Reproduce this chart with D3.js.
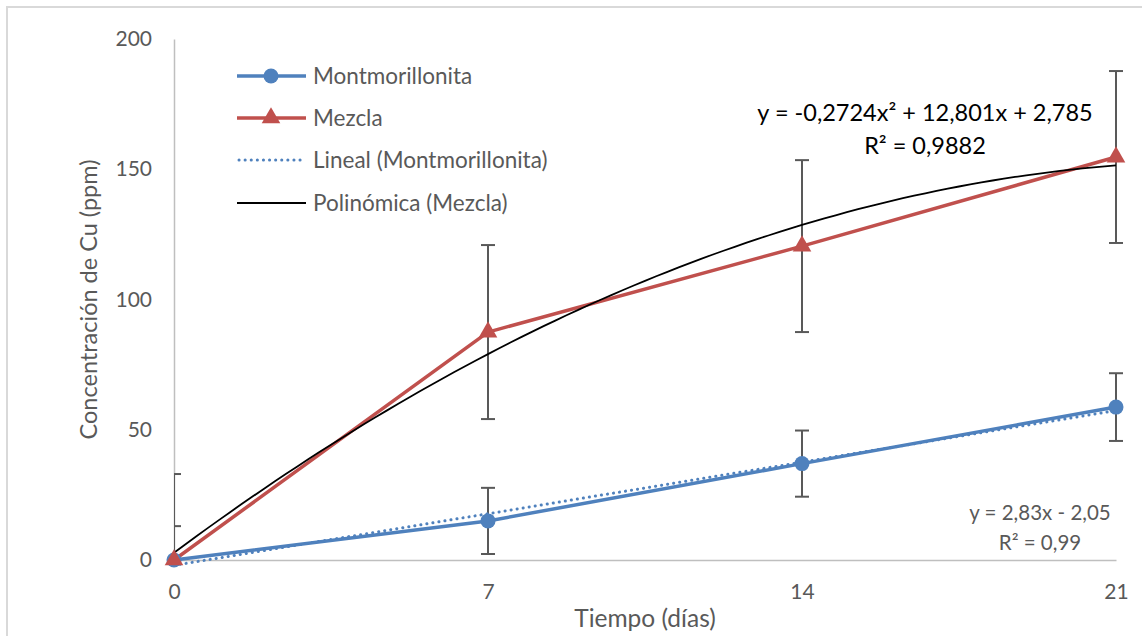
<!DOCTYPE html>
<html>
<head>
<meta charset="utf-8">
<script src="https://cdn.jsdelivr.net/npm/d3@7"></script>
<style>
  html, body { margin: 0; padding: 0; background: #fff; }
  svg { display: block; font-family: Lato, "Open Sans", sans-serif; }
</style>
</head>
<body>
<svg id="chart" width="1142" height="636"></svg>
<script>
// Copper concentration over time for two sorbents
const days = [0, 7, 14, 21];
const montmorillonita = [0, 15, 37, 58.7];
const mezcla = [0, 87.5, 120.5, 154.7];
const errMont = [13, 12.7, 12.7, 13];
const errMezcla = [33, 33.4, 33, 33];
const xTicks = [0, 7, 14, 21];
const yTicks = [0, 50, 100, 150, 200];
const seriesNames = ["Montmorillonita", "Mezcla", "Lineal (Montmorillonita)", "Polinómica (Mezcla)"];
// Trendline coefficients as reported on the chart
const linCoef = [2.83, -2.05];             // slope, intercept
const polyCoef = [-0.2724, 12.801, 2.785]; // a, b, c
const linLabel = ["y = 2,83x - 2,05", "R² = 0,99"];
const polyLabel = ["y = -0,2724x² + 12,801x + 2,785", "R² = 0,9882"];

const BLUE = "#4f81bd", RED = "#c0504d", GREY = "#595959";

const svg = d3.select("#chart");
const plot = { left: 174, right: 1116, top: 39, bottom: 560 };

const x = d3.scaleLinear().domain([0, 21]).range([plot.left, plot.right]);
const y = d3.scaleLinear().domain([0, 200]).range([plot.bottom, plot.top]);

// outer chart frame
svg.append("rect").attr("x", 7).attr("y", 7).attr("width", 1150).attr("height", 650)
  .attr("fill", "none").attr("stroke", "#d9d9d9").attr("stroke-width", 2);

svg.append("defs").append("clipPath").attr("id", "plotClip")
  .append("rect").attr("x", plot.left).attr("y", 0)
  .attr("width", plot.right - plot.left + 20).attr("height", plot.bottom);

// axes
const xAxis = svg.append("g").attr("transform", `translate(0,${plot.bottom})`)
  .call(d3.axisBottom(x).tickValues(xTicks).tickSize(0).tickPadding(24).tickFormat(d3.format("d")));
const yAxis = svg.append("g").attr("transform", `translate(${plot.left},0)`)
  .call(d3.axisLeft(y).tickValues(yTicks).tickSize(0).tickPadding(22).tickFormat(d3.format("d")));
[xAxis, yAxis].forEach(g => {
  g.select(".domain").attr("stroke", "#bfbfbf").attr("stroke-width", 1.5);
  g.selectAll("text").attr("fill", GREY).attr("font-size", 21).attr("font-family", "Lato, sans-serif");
});

// axis titles
svg.append("text").attr("x", (plot.left + plot.right) / 2).attr("y", 627)
  .attr("text-anchor", "middle").attr("fill", GREY).attr("font-size", 24.5).text("Tiempo (días)");
svg.append("text").attr("transform", `translate(97,${(plot.top + plot.bottom) / 2}) rotate(-90)`)
  .attr("text-anchor", "middle").attr("fill", GREY).attr("font-size", 23.5).text("Concentración de Cu (ppm)");

const clipped = svg.append("g").attr("clip-path", "url(#plotClip)");

// error bars
function errorBars(vals, errs) {
  const g = clipped.append("g").attr("stroke", GREY).attr("stroke-width", 2).attr("fill", "none");
  days.forEach((d, i) => {
    const lo = Math.max(0, vals[i] - errs[i]), hi = vals[i] + errs[i];
    g.append("line").attr("x1", x(d)).attr("x2", x(d)).attr("y1", y(lo)).attr("y2", y(hi));
    g.append("line").attr("x1", x(d) - 7).attr("x2", x(d) + 7).attr("y1", y(hi)).attr("y2", y(hi));
    if (vals[i] - errs[i] > 0)
      g.append("line").attr("x1", x(d) - 7).attr("x2", x(d) + 7).attr("y1", y(lo)).attr("y2", y(lo));
  });
}
errorBars(mezcla, errMezcla);
errorBars(montmorillonita, errMont);

const line = d3.line().x(d => x(d[0])).y(d => y(d[1]));

// data series
svg.append("path").datum(days.map((d, i) => [d, montmorillonita[i]])).attr("d", line)
  .attr("fill", "none").attr("stroke", BLUE).attr("stroke-width", 3.5).attr("stroke-linejoin", "round");
svg.append("path").datum(days.map((d, i) => [d, mezcla[i]])).attr("d", line)
  .attr("fill", "none").attr("stroke", RED).attr("stroke-width", 3.5).attr("stroke-linejoin", "round");

// trendlines
const tSamples = d3.range(0, 21.0001, 0.25);
svg.append("path").datum(tSamples.map(t => [t, linCoef[0] * t + linCoef[1]])).attr("d", line)
  .attr("fill", "none").attr("stroke", BLUE).attr("stroke-width", 3)
  .attr("stroke-dasharray", "0.1 6").attr("stroke-linecap", "round");
svg.append("path").datum(tSamples.map(t => [t, polyCoef[0] * t * t + polyCoef[1] * t + polyCoef[2]])).attr("d", line)
  .attr("fill", "none").attr("stroke", "#000").attr("stroke-width", 1.8);

// markers
const tri = d3.symbol().type(d3.symbolTriangle).size(150);
svg.append("g").selectAll("circle").data(days).join("circle")
  .attr("cx", d => x(d)).attr("cy", (d, i) => y(montmorillonita[i])).attr("r", 7.5).attr("fill", BLUE);
svg.append("g").selectAll("path").data(days).join("path")
  .attr("d", tri).attr("transform", (d, i) => `translate(${x(d)},${y(mezcla[i])})`).attr("fill", RED);

// trendline equations
const polyText = svg.append("text").attr("text-anchor", "middle").attr("fill", "#000").attr("font-size", 23.5);
polyLabel.forEach((s, i) => polyText.append("tspan").attr("x", 925).attr("y", 121 + i * 33).text(s));
const linText = svg.append("text").attr("text-anchor", "middle").attr("fill", GREY).attr("font-size", 20.5);
linLabel.forEach((s, i) => linText.append("tspan").attr("x", 1040).attr("y", 520 + i * 30).text(s));

// legend
const legend = svg.append("g");
const rowY = [76, 118, 160, 203];
seriesNames.forEach((name, i) => {
  const g = legend.append("g").attr("transform", `translate(0,${rowY[i]})`);
  const ln = g.append("line").attr("x1", 237).attr("x2", 306).attr("y1", 0).attr("y2", 0);
  if (i === 0) {
    ln.attr("stroke", BLUE).attr("stroke-width", 3.5);
    g.append("circle").attr("cx", 271).attr("cy", 0).attr("r", 7.5).attr("fill", BLUE);
  } else if (i === 1) {
    ln.attr("stroke", RED).attr("stroke-width", 3.5);
    g.append("path").attr("d", tri).attr("transform", "translate(271,0)").attr("fill", RED);
  } else if (i === 2) {
    ln.attr("x1", 239).attr("stroke", BLUE).attr("stroke-width", 3).attr("stroke-dasharray", "0.1 6").attr("stroke-linecap", "round");
  } else {
    ln.attr("stroke", "#000").attr("stroke-width", 1.8);
  }
  g.append("text").attr("x", 313).attr("y", 0).attr("dy", "0.35em")
    .attr("fill", GREY).attr("font-size", 22.5).text(name);
});
</script>
</body>
</html>
